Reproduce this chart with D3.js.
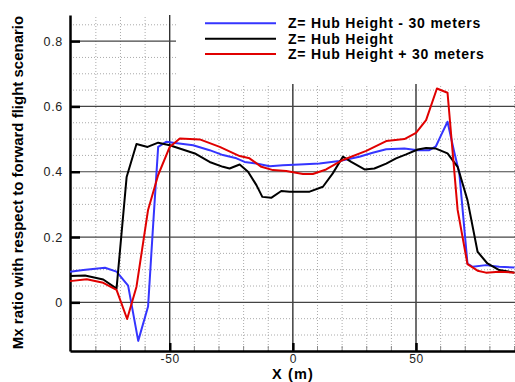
<!DOCTYPE html>
<meta charset="utf-8">
<style>
body { margin: 0; background: #fff; }
svg { font-family: "Liberation Sans", Arial, sans-serif; }
.tick text { font-size: 12px; fill: #222; letter-spacing: 0.7px; }
</style>
<svg width="515" height="382"></svg>
<script src="https://d3js.org/d3.v7.min.js"></script>
<script>

// data
var blackX = [-90.5,-84.4,-77,-71.6,-67.5,-63.5,-59,-54.7,-50,-39.8,-33.8,-28.4,-25.7,-21.6,-18.2,-14.8,-12.4,-8.8,-4.7,-1.3,6.8,12.2,16.2,20.3,23.7,29.1,33.1,37.9,41.9,46,50.7,54.1,58.1,62.8,66.9,70.9,75,79,83.8,90];
var blackY = [0.081,0.082,0.070,0.042,0.384,0.485,0.476,0.489,0.481,0.456,0.430,0.415,0.410,0.422,0.400,0.359,0.323,0.320,0.341,0.339,0.339,0.354,0.395,0.446,0.430,0.407,0.410,0.425,0.441,0.453,0.468,0.473,0.471,0.456,0.415,0.313,0.155,0.119,0.099,0.091];

var blueX = [-90.5,-85.1,-76.3,-71.6,-66.9,-62.8,-58.8,-56.7,-54.7,-51.3,-48.6,-40.5,-33.8,-28.4,-22.9,-19.6,-14.8,-9.4,-4.1,2.7,10.8,18.9,27,32.4,37.9,45.3,50.7,55.4,58.1,60.2,62.8,65.5,67.6,70.9,73,78.4,83.8,90];
var blueY = [0.094,0.099,0.106,0.094,0.051,-0.118,-0.013,0.242,0.476,0.492,0.489,0.481,0.466,0.451,0.441,0.430,0.425,0.417,0.420,0.422,0.425,0.433,0.446,0.458,0.469,0.471,0.466,0.466,0.478,0.512,0.553,0.461,0.395,0.119,0.109,0.114,0.109,0.107];

var redX = [-90.5,-83.7,-77,-71.6,-67.3,-63.5,-58.8,-54.7,-50,-45.9,-37.8,-29.7,-21.6,-17.6,-12.8,-8.1,-2.7,4.1,8.1,13.5,20.3,29.8,37.9,45.3,50,54.1,58.5,62.8,66.9,70.9,75,78.4,83.8,90];
var redY = [0.065,0.071,0.060,0.038,-0.051,0.048,0.283,0.390,0.476,0.502,0.499,0.476,0.448,0.441,0.415,0.405,0.402,0.393,0.393,0.407,0.436,0.464,0.494,0.500,0.519,0.558,0.655,0.642,0.283,0.117,0.097,0.091,0.094,0.091];

var seriesNames = ["Z= Hub Height - 30 meters", "Z= Hub Height", "Z= Hub Height + 30 meters"];
var seriesColors = ["#3535ff", "#000000", "#e00000"];

var xTicks = [-50, 0, 50];
var yTicks = [0, 0.2, 0.4, 0.6, 0.8];

var svg = d3.select("svg");
var pLeft = 70, pRight = 515, pTop = 15, pBottom = 351;

var x = d3.scaleLinear().domain([-90.5, 90.2]).range([pLeft, pRight]);
var y = d3.scaleLinear().domain([-0.149, 0.88]).range([pBottom, pTop]);

// legend box area (hides grid)
var legBottom = 84, legLeft = 176;

// minor dotted grid
var minorX = d3.range(-80, 91, 10).filter(function(d) { return d % 50 != 0; });
var minorY = d3.range(-0.1, 0.88, 0.05).filter(function(d) { return Math.abs(Math.round(d * 20) % 4) != 0; });

var grid = svg.append("g");
grid.selectAll("line.mx").data(minorX).enter().append("line")
    .attr("x1", function(d) { return x(d); }).attr("x2", function(d) { return x(d); })
    .attr("y1", pBottom).attr("y2", function(d) { return x(d) > legLeft ? legBottom : pTop; })
    .attr("stroke", "#aaa").attr("stroke-dasharray", "1,2");
grid.selectAll("line.my").data(minorY).enter().append("line")
    .attr("x1", pLeft)
    .attr("x2", function(d) { return y(d) < legBottom ? legLeft : pRight; })
    .attr("y1", function(d) { return y(d); }).attr("y2", function(d) { return y(d); })
    .attr("stroke", "#aaa").attr("stroke-dasharray", "1,2");

// small minor ticks on the x axis
grid.selectAll("line.mt").data(minorX).enter().append("line")
    .attr("x1", function(d) { return x(d); }).attr("x2", function(d) { return x(d); })
    .attr("y1", pBottom).attr("y2", pBottom - 5)
    .attr("stroke", "#888").attr("stroke-width", 1);

// major grid
grid.selectAll("line.Mx").data(xTicks).enter().append("line")
    .attr("x1", function(d) { return x(d); }).attr("x2", function(d) { return x(d); })
    .attr("y1", pBottom).attr("y2", function(d) { return x(d) > legLeft ? legBottom : pTop; })
    .attr("stroke", "#111").attr("stroke-width", 1.2);
grid.selectAll("line.My").data(yTicks).enter().append("line")
    .attr("x1", pLeft)
    .attr("x2", function(d) { return y(d) < legBottom ? legLeft : pRight; })
    .attr("y1", function(d) { return y(d); }).attr("y2", function(d) { return y(d); })
    .attr("stroke", "#444").attr("stroke-width", 1.2);

// axes
var yAxis = d3.axisLeft(y).tickValues(yTicks).tickSizeInner(-10).tickSizeOuter(0).tickPadding(7)
    .tickFormat(function(d) { return d === 0 ? "0" : d3.format(".1f")(d); });
var gy = svg.append("g").attr("transform", "translate(" + pLeft + ",0)").call(yAxis);
gy.select(".domain").attr("stroke-width", 2.5);
gy.selectAll(".tick line").attr("stroke-width", 2.5);
gy.selectAll(".tick text").attr("x", -7).style("font-size", "12.5px");

var xAxis = d3.axisBottom(x).tickValues(xTicks).tickSizeInner(-8).tickSizeOuter(0).tickPadding(3)
    .tickFormat(function(d) { return String(d); });
var gx = svg.append("g").attr("transform", "translate(0," + pBottom + ")").call(xAxis);
gx.select(".domain").attr("stroke-width", 2.5);
gx.selectAll(".tick line").attr("stroke-width", 2.5);
gx.selectAll(".tick text").attr("y", 3);

// curves
var line = d3.line().x(function(d) { return x(d[0]); }).y(function(d) { return y(d[1]); });
var series = [d3.zip(blueX, blueY), d3.zip(blackX, blackY), d3.zip(redX, redY)];
svg.append("g").selectAll("path").data(series).enter().append("path")
    .attr("d", line)
    .attr("fill", "none")
    .attr("stroke", function(d, i) { return seriesColors[i]; })
    .attr("stroke-width", 2)
    .attr("stroke-linejoin", "round");

// legend
var leg = svg.append("g").selectAll("g").data(seriesNames).enter().append("g")
    .attr("transform", function(d, i) { return "translate(0," + (23.3 + i * 15.4) + ")"; });
leg.append("line").attr("x1", 205).attr("x2", 276)
    .attr("stroke", function(d, i) { return seriesColors[i]; }).attr("stroke-width", 2);
leg.append("text").attr("x", 288).attr("dy", "0.36em")
    .attr("font-size", 14).attr("font-weight", "bold")
    .attr("letter-spacing", 0.8)
    .text(function(d) { return d; });

// titles
svg.append("text").attr("x", 293).attr("y", 379).attr("text-anchor", "middle")
    .attr("font-size", 14.5).attr("font-weight", "bold").attr("letter-spacing", 1.2)
    .text("X (m)");
svg.append("text").attr("transform", "translate(23,182.5) rotate(-90)").attr("text-anchor", "middle")
    .attr("font-size", 15).attr("font-weight", "bold")
    .text("Mx ratio with respect to forward flight scenario");

</script>
